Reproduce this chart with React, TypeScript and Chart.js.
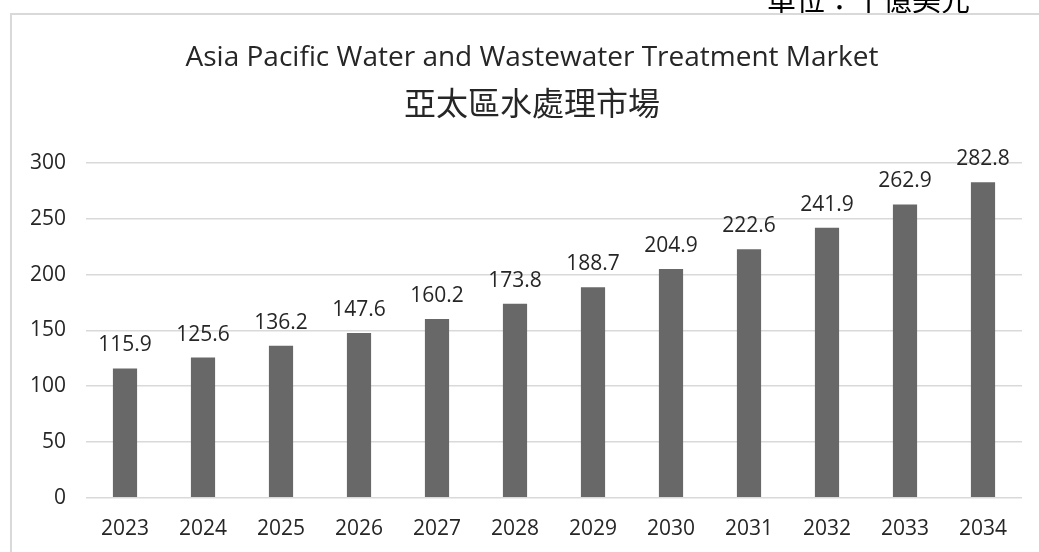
import React, { useEffect, useRef } from "react";
import { Chart, registerables } from "chart.js";

Chart.register(...registerables);

const categories = ["2023", "2024", "2025", "2026", "2027", "2028", "2029", "2030", "2031", "2032", "2033", "2034"];
const values = [115.9, 125.6, 136.2, 147.6, 160.2, 173.8, 188.7, 204.9, 222.6, 241.9, 262.9, 282.8];
const titleText = "Asia Pacific Water and Wastewater Treatment Market";
const subtitleText = "亞太區水處理市場";
const unitText = "單位：十億美元";

const FONT = "'Open Sans', 'Noto Sans', sans-serif";
const CJK = "'Noto Sans CJK TC', 'Noto Sans CJK SC', sans-serif";

const dataLabels = {
  id: "dataLabels",
  afterDatasetsDraw(chart: any) {
    const ctx = chart.ctx;
    const meta = chart.getDatasetMeta(0);
    ctx.save();
    ctx.font = `21px ${FONT}`;
    ctx.fillStyle = "#262626";
    ctx.textAlign = "center";
    ctx.textBaseline = "alphabetic";
    meta.data.forEach((bar: any, i: number) => {
      ctx.fillText(values[i].toFixed(1), bar.x, bar.y - 17);
    });
    ctx.restore();
  },
};

// center the title blocks on the whole canvas width
const centerTitles = {
  id: "centerTitles",
  afterLayout(chart: any) {
    chart.boxes.forEach((b: any) => {
      if (b.position === "top") {
        b.left = 0;
        b.right = chart.width;
        b.width = chart.width;
      }
    });
  },
};

export default function App() {
  const ref = useRef<HTMLCanvasElement>(null);
  useEffect(() => {
    if (!ref.current) return;
    const chart = new Chart(ref.current, {
      type: "bar",
      data: {
        labels: categories,
        datasets: [
          {
            data: values,
            backgroundColor: "#686868",
            categoryPercentage: 1,
            barPercentage: 0.31,
          },
        ],
      },
      options: {
        animation: false,
        responsive: false,
        maintainAspectRatio: false,
        layout: { padding: { left: 0, right: 30, top: 0, bottom: 0 } },
        plugins: {
          legend: { display: false },
          tooltip: { enabled: false },
          title: {
            display: true,
            text: titleText,
            color: "#262626",
            font: { family: FONT, size: 28, weight: "normal" },
            padding: { top: 26.2, bottom: 0 },
          },
          subtitle: {
            display: true,
            text: subtitleText,
            color: "#262626",
            font: { family: CJK, size: 32, weight: "normal" },
            padding: { top: 9, bottom: 40.8 },
          },
        },
        scales: {
          x: {
            grid: { display: false, drawTicks: false },
            border: { display: false },
            ticks: { color: "#262626", font: { family: FONT, size: 21 }, padding: 19 },
            afterFit(scale: any) {
              scale.height = 62.3;
            },
          },
          y: {
            min: 0,
            max: 300,
            grid: { color: "#d9d9d9", lineWidth: 1.5, drawTicks: false },
            border: { display: false },
            ticks: { stepSize: 50, color: "#262626", font: { family: FONT, size: 21 }, padding: 20 },
            afterFit(scale: any) {
              scale.width = 74;
            },
          },
        },
      },
      plugins: [dataLabels, centerTitles],
    });
    return () => chart.destroy();
  }, []);

  return (
    <div>
      <div
        style={{
          position: "fixed",
          left: 767,
          top: -16,
          fontFamily: CJK,
          fontSize: 29,
          lineHeight: "29px",
          color: "#000",
          whiteSpace: "nowrap",
        }}
      >
        {unitText}
      </div>
      <div
        style={{
          position: "fixed",
          left: 10,
          top: 13,
          width: 1052,
          height: 560,
          border: "2px solid #d9d9d9",
          boxSizing: "border-box",
          background: "#fff",
          overflow: "hidden",
        }}
      >
        <canvas ref={ref} width={1040} height={545} style={{ display: "block", width: 1040, height: 545 }} />
      </div>
    </div>
  );
}
